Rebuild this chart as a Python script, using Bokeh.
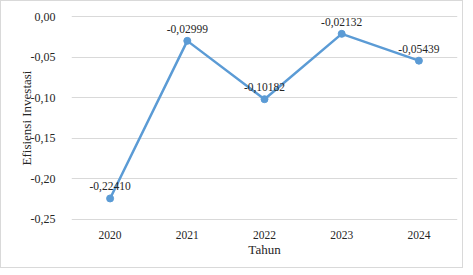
from bokeh.plotting import figure
from bokeh.models import ColumnDataSource, LabelSet, CustomJSTickFormatter, FixedTicker
from bokeh.embed import file_html
from bokeh.resources import INLINE

years = ["2020", "2021", "2022", "2023", "2024"]
values = [-0.22410, -0.02999, -0.10182, -0.02132, -0.05439]
labels = ["-0,22410", "-0,02999", "-0,10182", "-0,02132", "-0,05439"]
y_ticks = [0.0, -0.05, -0.10, -0.15, -0.20, -0.25]

src = ColumnDataSource(data=dict(x=years, y=values, label=labels))

FONT = "Liberation Serif"
TXT = "#262626"

p = figure(x_range=years, y_range=(-0.2525, 0.0025), width=463, height=268,
           output_backend="svg", toolbar_location=None,
           min_border_left=70, min_border_right=7, min_border_top=13, min_border_bottom=48)
p.styles = {"border": "1px solid #d9d9d9", "box-sizing": "border-box"}
p.outline_line_color = None
p.background_fill_color = "white"
p.border_fill_color = "white"

p.line("x", "y", source=src, line_color="#5b9bd5", line_width=2.5)
p.scatter("x", "y", source=src, size=7, fill_color="#5b9bd5", line_color="#5b9bd5")

lab = LabelSet(x="x", y="y", text="label", source=src, y_offset=8,
               text_align="center", text_baseline="bottom",
               text_font=FONT, text_font_size="11.5px", text_color=TXT)
p.add_layout(lab)

p.yaxis.ticker = FixedTicker(ticks=y_ticks)
p.yaxis.formatter = CustomJSTickFormatter(code="""
var v = Math.abs(tick) < 1e-9 ? 0 : tick;
return v.toFixed(2).replace('.', ',');
""")
for ax in (p.xaxis[0], p.yaxis[0]):
    ax.axis_line_color = None
    ax.major_tick_line_color = None
    ax.minor_tick_line_color = None
    ax.major_label_text_font = FONT
    ax.major_label_text_color = TXT
    ax.axis_label_text_font = FONT
    ax.axis_label_text_font_size = "13px"
    ax.axis_label_text_font_style = "normal"
    ax.axis_label_text_color = TXT

p.xaxis.major_label_text_font_size = "11.5px"
p.yaxis.major_label_text_font_size = "12px"
p.xaxis.axis_label = "Tahun"
p.yaxis.axis_label = "Efisiensi Investasi"
p.xaxis.major_label_standoff = 3
p.xaxis.axis_label_standoff = 0
p.yaxis.major_label_standoff = 10
p.yaxis.axis_label_standoff = -6

p.xgrid.grid_line_color = None
p.ygrid.grid_line_color = "#d9d9d9"
p.ygrid.grid_line_width = 1
p.ygrid.ticker = FixedTicker(ticks=y_ticks)

open("out.html", "w").write(file_html(p, INLINE))
